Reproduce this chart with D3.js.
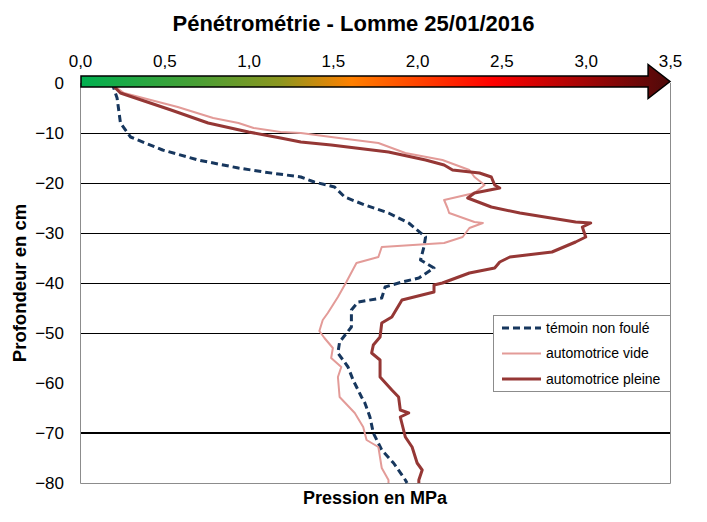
<!DOCTYPE html>
<html>
<head>
<meta charset="utf-8">
<script src="https://cdn.jsdelivr.net/npm/d3@7"></script>
<style>
  body { margin: 0; background: #fff; }
  svg { font-family: "Liberation Sans", Arial, sans-serif; }
</style>
</head>
<body>
<div id="chart"></div>
<script>
// Data
const pressionTicks = [0, 0.5, 1, 1.5, 2, 2.5, 3, 3.5]
const depthTicks = [0, -10, -20, -30, -40, -50, -60, -70, -80]
const gridDepths = [-10, -20, -30, -40, -50]

const temoinDepth = [0, -3, -8, -10.8, -13.4, -15.4, -17, -17.8, -18.8, -19.8, -20.8, -22.8, -24.4, -26, -28, -30.8, -32.8, -35.4, -37, -39, -39.8, -40.8, -43, -43.8, -45.4, -48.8, -51.8, -54, -56.8, -59.4, -62.8, -64, -66.8, -70, -73.4, -76, -79.4, -80]
const temoinP = [0.19, 0.22, 0.24, 0.30, 0.49, 0.70, 0.94, 1.09, 1.31, 1.39, 1.51, 1.57, 1.69, 1.83, 1.95, 2.05, 2.04, 2.02, 2.10, 2.01, 1.91, 1.81, 1.79, 1.65, 1.61, 1.61, 1.54, 1.53, 1.59, 1.62, 1.67, 1.69, 1.72, 1.74, 1.79, 1.86, 1.93, 1.94]

const videDepth = [0, -2, -4.8, -7, -8, -9, -9.8, -10, -10.8, -12, -14, -15.4, -17.4, -18.8, -20.4, -22, -23.4, -25, -26, -27.8, -28, -29, -30.8, -32, -32.8, -34.8, -36, -39.8, -42.8, -46, -47.4, -49.6, -51, -53, -55, -56.8, -58.8, -62.8, -66, -68.8, -71.4, -72.8, -77, -79.4, -80]
const videP = [0.18, 0.26, 0.58, 0.79, 0.94, 1.03, 1.19, 1.31, 1.49, 1.77, 1.93, 2.15, 2.31, 2.34, 2.40, 2.34, 2.16, 2.18, 2.19, 2.34, 2.39, 2.31, 2.27, 2.16, 1.79, 1.77, 1.64, 1.58, 1.53, 1.47, 1.44, 1.42, 1.45, 1.50, 1.49, 1.55, 1.53, 1.54, 1.63, 1.68, 1.70, 1.77, 1.79, 1.83, 1.83]

const pleineDepth = [0, -2, -5.4, -8, -9.8, -11, -11.8, -12.4, -13.8, -15.4, -16.4, -17.4, -18, -18.8, -20.4, -21, -22, -23, -24.8, -26, -27.8, -28, -28.8, -30.8, -31.8, -33.8, -34.8, -35.8, -37, -38, -40, -40.4, -41.8, -43.4, -46.8, -48, -50.8, -52.4, -54, -55.4, -58.8, -61.4, -62.8, -65.4, -66, -66.8, -70.8, -72.8, -76, -77.4, -79.4, -80]
const pleineP = [0.18, 0.24, 0.54, 0.76, 1.00, 1.19, 1.31, 1.49, 1.83, 2.05, 2.16, 2.21, 2.37, 2.44, 2.46, 2.49, 2.34, 2.30, 2.44, 2.61, 2.94, 3.03, 2.98, 3.00, 2.94, 2.80, 2.55, 2.49, 2.46, 2.31, 2.15, 2.10, 2.10, 1.91, 1.85, 1.79, 1.78, 1.74, 1.73, 1.78, 1.78, 1.85, 1.89, 1.90, 1.95, 1.90, 1.93, 1.97, 2.00, 2.03, 2.01, 2.01]

const seriesNames = ["témoin non foulé", "automotrice vide", "automotrice pleine"]

// Dimensions
const dimensions = { width: 707, height: 522, left: 80, right: 670, top: 83, bottom: 483 }

const svg = d3.select('#chart')
  .append("svg")
  .attr("width", dimensions.width)
  .attr("height", dimensions.height)

// Scales
const xScale = d3.scaleLinear()
  .domain([0, 3.5])
  .range([dimensions.left, dimensions.right])

const yScale = d3.scaleLinear()
  .domain([-80, 0])
  .range([dimensions.bottom, dimensions.top])

// Gridlines
svg.append("g")
  .selectAll("line")
  .data(gridDepths)
  .join("line")
  .attr("x1", dimensions.left)
  .attr("x2", dimensions.right)
  .attr("y1", d => yScale(d) + 0.5)
  .attr("y2", d => yScale(d) + 0.5)
  .attr("stroke", "#000")
  .attr("stroke-width", 1.2)

svg.append("line")
  .attr("x1", dimensions.left)
  .attr("x2", dimensions.right)
  .attr("y1", yScale(-70))
  .attr("y2", yScale(-70))
  .attr("stroke", "#000")
  .attr("stroke-width", 2)

// plot frame (left, bottom, right)
svg.append("path")
  .attr("d", `M${dimensions.left + 0.5},${dimensions.top} V${dimensions.bottom + 0.5} H${dimensions.right + 0.5} V${dimensions.top}`)
  .attr("fill", "none")
  .attr("stroke", "#8c8c8c")
  .attr("stroke-width", 1)

// Lines
const lineGenerator = d3.line()
  .x(d => xScale(d[1]))
  .y(d => yScale(d[0]))

const series = [
  { depth: temoinDepth, p: temoinP, color: "#17375e", width: 3, dash: "7,4" },
  { depth: videDepth, p: videP, color: "#e39b98", width: 2, dash: null },
  { depth: pleineDepth, p: pleineP, color: "#953735", width: 3, dash: null },
]

series.forEach(s => {
  svg.append("path")
    .datum(d3.zip(s.depth, s.p))
    .attr("d", lineGenerator)
    .attr("fill", "none")
    .attr("stroke", s.color)
    .attr("stroke-width", s.width)
    .attr("stroke-dasharray", s.dash)
    .attr("stroke-linejoin", "round")
})

// Gradient arrow
const defs = svg.append("defs")
const grad = defs.append("linearGradient")
  .attr("id", "arrowGrad")
  .attr("gradientUnits", "userSpaceOnUse")
  .attr("x1", xScale(0)).attr("x2", xScale(3.5))
  .attr("y1", 0).attr("y2", 0)
const stops = [[0, "#00b050"], [0.2, "#4a9f35"], [0.34, "#8c961f"], [0.46, "#ff8000"], [0.7, "#ff0000"], [1, "#4d0a0a"]]
grad.selectAll("stop")
  .data(stops)
  .join("stop")
  .attr("offset", d => d[0])
  .attr("stop-color", d => d[1])

const ay = yScale(0) - 1.5
const headX = xScale(3.37)
svg.append("path")
  .attr("d", `M${xScale(0) + 1},${ay - 5.5} H${headX} V${ay - 17} L${xScale(3.5)},${ay} L${headX},${ay + 17} V${ay + 5.5} H${xScale(0) + 1} Z`)
  .attr("fill", "url(#arrowGrad)")
  .attr("stroke", "#000")
  .attr("stroke-width", 1.5)
  .attr("stroke-linejoin", "miter")

// Axes
const topAxis = d3.axisTop(xScale)
  .tickValues(pressionTicks)
  .tickSize(0)
  .tickPadding(16)
  .tickFormat(d => d3.format(".1f")(d).replace(".", ","))

svg.append("g")
  .attr("transform", `translate(0, ${dimensions.top})`)
  .call(topAxis)
  .call(g => g.select(".domain").remove())
  .selectAll("text")
  .attr("font-size", 17)
  .attr("font-family", "Liberation Sans, Arial, sans-serif")
  .attr("fill", "#000")

const leftAxis = d3.axisLeft(yScale)
  .tickValues(depthTicks)
  .tickSize(0)
  .tickPadding(16)

svg.append("g")
  .attr("transform", `translate(${dimensions.left}, 0)`)
  .call(leftAxis)
  .call(g => g.select(".domain").remove())
  .selectAll("text")
  .attr("font-size", 17)
  .attr("font-family", "Liberation Sans, Arial, sans-serif")
  .attr("fill", "#000")

// Titles
svg.append("text")
  .attr("x", dimensions.width / 2)
  .attr("y", 31)
  .attr("text-anchor", "middle")
  .attr("font-size", 22)
  .attr("font-weight", "bold")
  .text("Pénétrométrie - Lomme 25/01/2016")

svg.append("text")
  .attr("x", (dimensions.left + dimensions.right) / 2)
  .attr("y", 504)
  .attr("text-anchor", "middle")
  .attr("font-size", 18)
  .attr("font-weight", "bold")
  .text("Pression en MPa")

svg.append("text")
  .attr("transform", `translate(26, ${(dimensions.top + dimensions.bottom) / 2}) rotate(-90)`)
  .attr("text-anchor", "middle")
  .attr("font-size", 18.5)
  .attr("font-weight", "bold")
  .text("Profondeur en cm")

// Legend
const legend = svg.append("g")
  .attr("transform", "translate(493, 315)")

legend.append("rect")
  .attr("x", 0.5).attr("y", 0.5)
  .attr("width", 177).attr("height", 76)
  .attr("fill", "#fff")
  .attr("stroke", "#8c8c8c")

const items = legend.selectAll("g.item")
  .data(series)
  .join("g")
  .attr("class", "item")
  .attr("transform", (d, i) => `translate(0, ${13 + i * 25.5})`)

items.append("line")
  .attr("x1", 9).attr("x2", 48)
  .attr("stroke", d => d.color)
  .attr("stroke-width", d => d.width)
  .attr("stroke-dasharray", d => d.dash)

items.append("text")
  .attr("x", 53)
  .attr("dy", "0.35em")
  .attr("font-size", 14)
  .text((d, i) => seriesNames[i])
</script>
</body>
</html>
